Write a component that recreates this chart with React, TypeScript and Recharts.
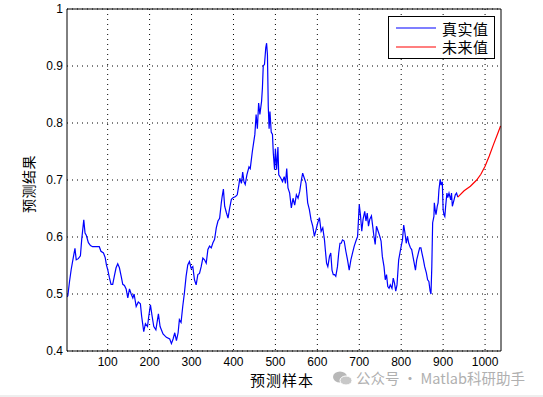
import React from 'react';
import { LineChart, Line, XAxis, YAxis, CartesianGrid, Legend } from 'recharts';

// ---- data ----
const realX = [
  3, 5, 9, 13, 17, 22, 25, 30, 35, 38, 43, 46, 49, 54, 59, 64, 80, 84, 90, 94, 97,
  100, 104, 108, 112, 116, 120, 124, 128, 132, 136, 140, 144, 148, 152, 156, 160, 163,
  168, 173, 178, 181, 186, 190, 195, 198, 202, 206, 210, 215, 221, 225, 232, 240, 248,
  252, 256, 260, 264, 268, 271, 275, 279, 283, 287, 291, 295, 299, 303, 307, 311, 315,
  319, 323, 327, 331, 335, 339, 343, 347, 351, 355, 359, 363, 367, 371, 373, 376, 379,
  383, 387, 391, 395, 399, 405, 409, 413, 415, 419, 422, 425, 428, 432, 437, 440, 445,
  448, 451, 454, 457, 460, 463, 467, 469, 471, 474, 477, 479, 481, 483, 485, 487, 490,
  493, 495, 498, 500, 503, 506, 508, 513, 517, 521, 524, 527, 530, 534, 538, 542, 546,
  550, 554, 558, 562, 565, 569, 573, 577, 581, 585, 589, 593, 597, 601, 605, 609, 613,
  617, 619, 622, 625, 629, 632, 635, 638, 641, 644, 648, 651, 654, 657, 660, 664, 668,
  672, 676, 680, 684, 688, 692, 696, 700, 703, 706, 709, 713, 716, 719, 722, 725, 729,
  732, 735, 738, 741, 745, 749, 752, 755, 759, 762, 765, 768, 771, 774, 778, 781, 784,
  787, 790, 794, 797, 800, 803, 806, 809, 812, 815, 818, 822, 825, 828, 831, 834, 837,
  841, 844, 847, 850, 853, 856, 860, 863, 866, 869, 871, 873, 875, 878, 879, 881, 883,
  886, 888, 890, 893, 895, 898, 900, 902, 904, 906, 909, 911, 914, 918, 920, 922, 926,
  929, 932, 935,
];
const realY = [
  0.495, 0.497, 0.522, 0.543, 0.56, 0.58, 0.56, 0.562, 0.567, 0.595, 0.63, 0.607, 0.603,
  0.59, 0.585, 0.583, 0.583, 0.575, 0.572, 0.564, 0.551,
  0.543, 0.529, 0.517, 0.517, 0.532, 0.546, 0.553, 0.546, 0.532, 0.517, 0.515, 0.509,
  0.493, 0.509, 0.5, 0.493, 0.5,
  0.478, 0.486, 0.483, 0.461, 0.434, 0.448, 0.443, 0.461, 0.481, 0.461, 0.443, 0.437,
  0.465, 0.443, 0.43, 0.424, 0.421,
  0.413, 0.421, 0.432, 0.418, 0.432, 0.455, 0.45, 0.478, 0.502, 0.531, 0.551, 0.557,
  0.545, 0.548, 0.525, 0.516, 0.534,
  0.536, 0.548, 0.563, 0.56, 0.554, 0.578, 0.584, 0.581, 0.59, 0.596, 0.616, 0.628,
  0.633, 0.66, 0.671, 0.684, 0.654,
  0.643, 0.633, 0.651, 0.666, 0.669, 0.671, 0.674, 0.692, 0.703, 0.694, 0.714, 0.697,
  0.692, 0.709, 0.723, 0.72, 0.75,
  0.765, 0.78, 0.815, 0.79, 0.835, 0.815, 0.838, 0.861, 0.9, 0.903, 0.932, 0.94, 0.92,
  0.829, 0.79, 0.82, 0.784,
  0.78, 0.747, 0.718, 0.755, 0.718, 0.758, 0.709, 0.703, 0.697, 0.706, 0.694, 0.72,
  0.686, 0.677, 0.651, 0.668, 0.656,
  0.674, 0.668, 0.68, 0.7, 0.712, 0.703, 0.694, 0.66, 0.648, 0.63, 0.619, 0.601, 0.613,
  0.625, 0.634, 0.61, 0.616,
  0.595, 0.578, 0.554, 0.548, 0.566, 0.572, 0.542, 0.534, 0.534, 0.531, 0.548, 0.572,
  0.589, 0.589, 0.595, 0.593, 0.575,
  0.56, 0.542, 0.56, 0.572, 0.584, 0.593, 0.601, 0.657, 0.637, 0.61, 0.631, 0.645,
  0.628, 0.642, 0.619, 0.631, 0.637,
  0.619, 0.601, 0.587, 0.619, 0.61, 0.601, 0.593, 0.566, 0.548, 0.525, 0.534, 0.513,
  0.51, 0.516, 0.51, 0.528, 0.519,
  0.505, 0.516, 0.56, 0.572, 0.584, 0.595, 0.621, 0.607, 0.589, 0.601, 0.589, 0.581,
  0.578, 0.566, 0.554, 0.542, 0.56,
  0.572, 0.581, 0.581, 0.57, 0.56, 0.548, 0.537, 0.525, 0.522, 0.505, 0.5, 0.548, 0.625,
  0.636, 0.66, 0.648, 0.639,
  0.654, 0.66, 0.683, 0.701, 0.691, 0.697, 0.648, 0.639, 0.636, 0.654, 0.677, 0.669,
  0.677, 0.665, 0.677, 0.654, 0.665,
  0.674, 0.677, 0.67,
];
const futureX = [935, 950, 965, 980, 990, 1000, 1010, 1020, 1030, 1037];
const futureY = [0.67, 0.681, 0.689, 0.7, 0.71, 0.724, 0.742, 0.762, 0.781, 0.795];

const xTicks = [100, 200, 300, 400, 500, 600, 700, 800, 900, 1000];
const yTicks = [0.4, 0.5, 0.6, 0.7, 0.8, 0.9, 1];
const xDomain = [3, 1038];
const yDomain = [0.4, 1];

const seriesNames = ['真实值', '未来值'];
const seriesColors = ['#0000ff', '#ff0000'];
const xLabel = '预测样本';
const yLabel = '预测结果';
const watermark = '公众号 · Matlab科研助手';

const realData = realX.map((x, i) => ({ x, y: realY[i] }));
const futureData = futureX.map((x, i) => ({ x, y: futureY[i] }));

const NUM_FONT = '"Liberation Sans", Arial, sans-serif';
const CJK_FONT = '"Noto Sans CJK SC", "Noto Sans", sans-serif';

const LegendBox = () => (
  <div
    style={{
      border: '1px solid #000',
      background: '#fff',
      width: 107,
      height: 43,
      boxSizing: 'border-box',
      paddingTop: 2,
      fontFamily: CJK_FONT,
      fontSize: 15,
      color: '#000',
    }}
  >
    {seriesNames.map((name, i) => (
      <div key={name} style={{ display: 'flex', alignItems: 'center', height: 18.5 }}>
        <svg width={48} height={4} style={{ display: 'block' }}>
          <line x1={7} x2={47} y1={2} y2={2} stroke={seriesColors[i]} strokeWidth={1.2} />
        </svg>
        <span style={{ marginLeft: 5, lineHeight: 1, letterSpacing: 0.5 }}>{name}</span>
      </div>
    ))}
  </div>
);

export default function App() {
  return (
    <div style={{ position: 'absolute', left: 0, top: 0, width: 543, height: 397, background: '#fff', overflow: 'hidden' }}>
      <LineChart
        width={543}
        height={397}
        margin={{ top: 9, right: 42, bottom: 16, left: 27 }}
        style={{ fontFamily: NUM_FONT }}
      >
        <CartesianGrid
          xAxisId="x"
          yAxisId="y"
          stroke="#000"
          strokeDasharray="1 4"
          horizontalValues={yTicks}
          verticalValues={xTicks}
        />
        <XAxis
          xAxisId="x"
          dataKey="x"
          type="number"
          domain={xDomain}
          allowDataOverflow
          ticks={xTicks}
          height={30}
          tickSize={0}
          tickMargin={6}
          axisLine={false}
          tickLine={false}
          tick={{ fontSize: 12, fill: '#000', fontFamily: NUM_FONT }}
          label={{
            content: (p: any) => {
              const vb = p.viewBox || { x: 67, y: 351, width: 434, height: 30 };
              return (
                <text
                  x={vb.x + vb.width / 2 - 2}
                  y={vb.y + 28}
                  textAnchor="middle"
                  dominantBaseline="central"
                  fontFamily={CJK_FONT}
                  fontSize={15}
                  letterSpacing={1}
                  fill="#000"
                >
                  {xLabel}
                </text>
              );
            },
          }}
        />
        <YAxis
          yAxisId="y"
          type="number"
          domain={yDomain}
          allowDataOverflow
          ticks={yTicks}
          width={40}
          tickSize={0}
          tickMargin={4}
          axisLine={false}
          tickLine={false}
          tickFormatter={(v: number) => String(v)}
          tick={{ fontSize: 12, fill: '#000', fontFamily: NUM_FONT }}
          label={{
            content: (p: any) => {
              const vb = p.viewBox || { x: 27, y: 9, width: 40, height: 342 };
              const cx = vb.x + 1;
              const cy = vb.y + vb.height / 2 + 4;
              return (
                <text
                  x={cx}
                  y={cy}
                  transform={`rotate(-90, ${cx}, ${cy})`}
                  textAnchor="middle"
                  dominantBaseline="central"
                  fontFamily={CJK_FONT}
                  fontSize={14}
                  letterSpacing={0.5}
                  fill="#000"
                >
                  {yLabel}
                </text>
              );
            },
          }}
        />
        {/* box + inward tick marks (MATLAB style) */}
        <XAxis
          xAxisId="xb"
          type="number"
          orientation="bottom"
          mirror
          domain={xDomain}
          allowDataOverflow
          ticks={xTicks}
          height={5}
          tickSize={5}
          tick={false}
          stroke="#000"
        />
        <XAxis
          xAxisId="xt"
          type="number"
          orientation="top"
          mirror
          domain={xDomain}
          allowDataOverflow
          ticks={xTicks}
          height={5}
          tickSize={5}
          tick={false}
          stroke="#000"
        />
        <YAxis
          yAxisId="yl"
          type="number"
          orientation="left"
          mirror
          domain={yDomain}
          allowDataOverflow
          ticks={yTicks}
          width={5}
          tickSize={5}
          tick={false}
          stroke="#000"
        />
        <YAxis
          yAxisId="yr"
          type="number"
          orientation="right"
          mirror
          domain={yDomain}
          allowDataOverflow
          ticks={yTicks}
          width={5}
          tickSize={5}
          tick={false}
          stroke="#000"
        />
        <Line
          xAxisId="x"
          yAxisId="y"
          data={realData}
          dataKey="y"
          name={seriesNames[0]}
          type="linear"
          stroke={seriesColors[0]}
          strokeWidth={1.2}
          dot={false}
          activeDot={false}
          isAnimationActive={false}
        />
        <Line
          xAxisId="x"
          yAxisId="y"
          data={futureData}
          dataKey="y"
          name={seriesNames[1]}
          type="linear"
          stroke={seriesColors[1]}
          strokeWidth={1.2}
          dot={false}
          activeDot={false}
          isAnimationActive={false}
        />
        <Legend
          layout="vertical"
          align="center"
          verticalAlign="middle"
          content={() => <LegendBox />}
          wrapperStyle={{ left: 388, top: 16, width: 107, height: 43 }}
        />
      </LineChart>
      {/* watermark */}
      <div
        style={{
          position: 'absolute',
          left: 333,
          top: 371,
          height: 14,
          display: 'flex',
          alignItems: 'center',
          color: '#b0b0b0',
          fontFamily: CJK_FONT,
          fontSize: 14.5,
          lineHeight: '14px',
          whiteSpace: 'nowrap',
        }}
      >
        <svg width={19} height={14} style={{ display: 'block', marginRight: 4 }}>
          <ellipse cx={7} cy={6} rx={7} ry={5.5} fill="#b8b8b8" />
          <ellipse cx={13} cy={9.5} rx={6} ry={4.5} fill="#c8c8c8" stroke="#fff" strokeWidth={1} />
        </svg>
        <span>{watermark}</span>
      </div>
      <div style={{ position: 'absolute', left: 0, top: 395, width: 543, height: 2, background: '#eeeeee' }} />
    </div>
  );
}
